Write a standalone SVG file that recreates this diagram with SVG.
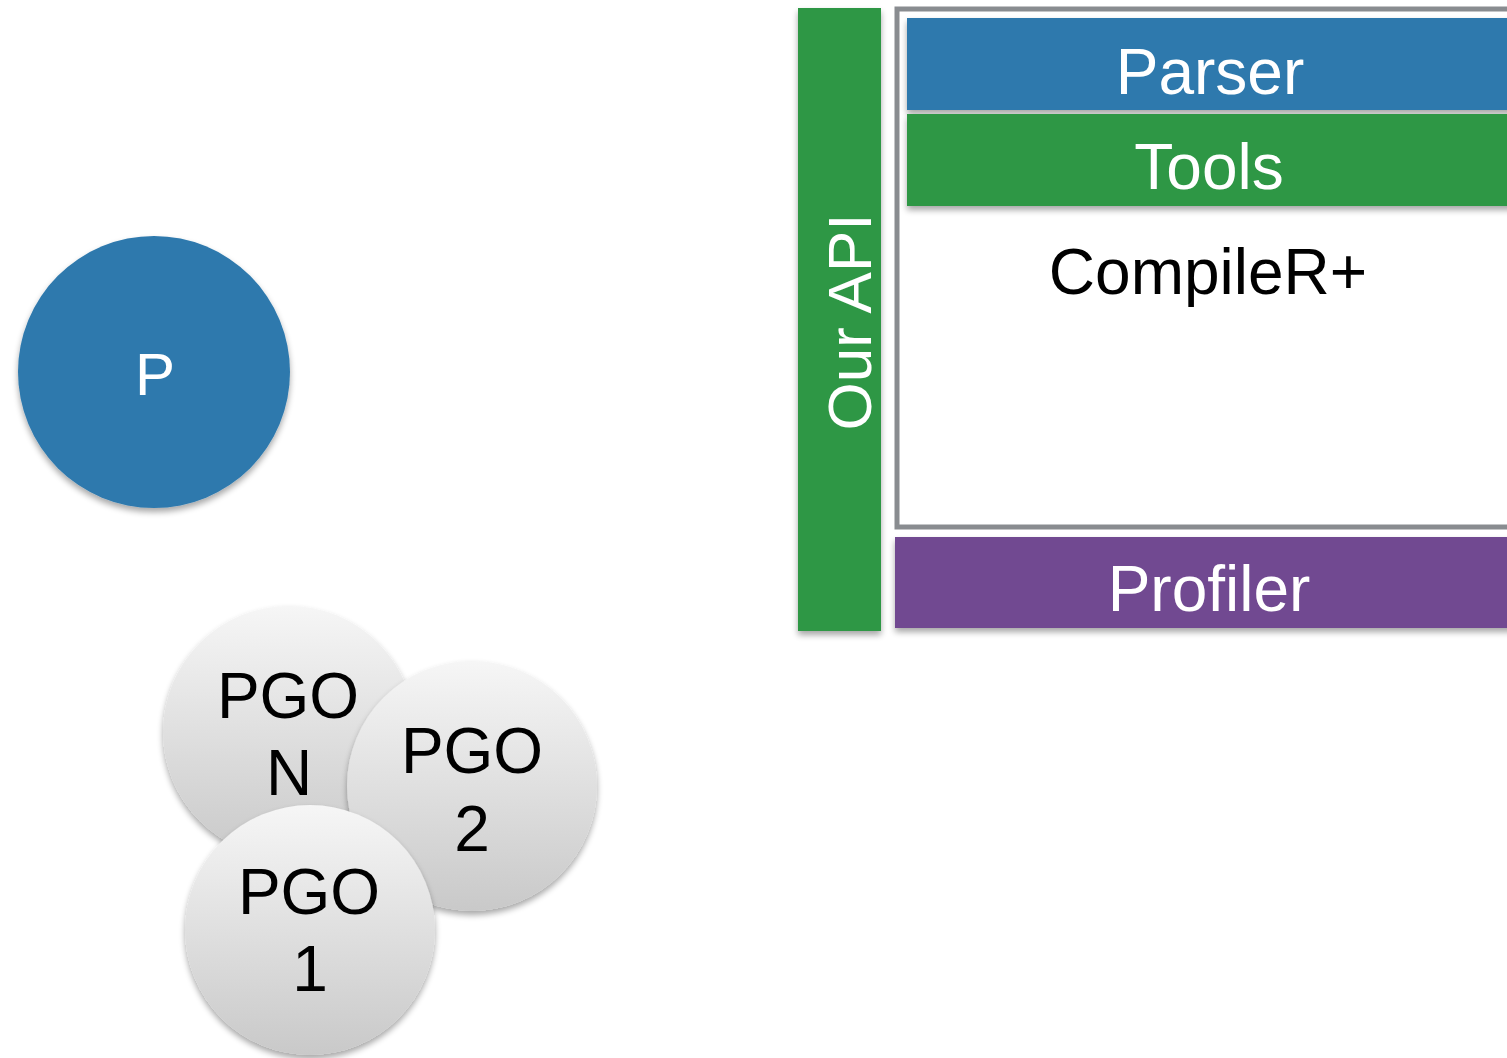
<svg xmlns="http://www.w3.org/2000/svg" width="1507" height="1058" viewBox="0 0 1507 1058">
<defs>
<style>
.t{font-family:"Liberation Sans",Arial,sans-serif;text-anchor:middle}
.w{fill:#ffffff}
.k{fill:#000000}
</style>
<filter id="sh" x="-20%" y="-20%" width="140%" height="150%">
<feGaussianBlur in="SourceAlpha" stdDeviation="3"/>
<feOffset dy="4" result="b"/>
<feComponentTransfer><feFuncA type="linear" slope="0.35"/></feComponentTransfer>
<feMerge><feMergeNode/><feMergeNode in="SourceGraphic"/></feMerge>
</filter>
<linearGradient id="pg" x1="0" y1="0" x2="0" y2="1">
<stop offset="0" stop-color="#f6f6f6"/>
<stop offset="1" stop-color="#c9c9c9"/>
</linearGradient>
</defs>
<rect width="1507" height="1058" fill="#ffffff"/>
<g id="connectors"></g>
<g id="api">
<rect x="798" y="8" width="83" height="623" fill="#2f9744" filter="url(#sh)"/>
<text class="t w" font-size="62" transform="translate(871,322) rotate(-90)">Our API</text>
</g>
<g id="frame">
<rect x="897" y="9" width="620" height="518" fill="#ffffff" stroke="#898c90" stroke-width="5"/>
<text class="t k" font-size="64" x="1208" y="294">CompileR+</text>
</g>
<g id="parser">
<rect x="907" y="18" width="610" height="92" fill="#2e79ad" filter="url(#sh)"/>
<text class="t w" font-size="64" x="1210" y="94">Parser</text>
</g>
<g id="tools">
<rect x="907" y="114" width="610" height="92" fill="#2f9744" filter="url(#sh)"/>
<text class="t w" font-size="64" x="1209" y="189">Tools</text>
</g>
<g id="profiler">
<rect x="895" y="537" width="622" height="91" fill="#714a91" filter="url(#sh)"/>
<text class="t w" font-size="64" x="1209" y="611">Profiler</text>
</g>
<g id="p">
<circle cx="154" cy="372" r="136" fill="#2e79ad" filter="url(#sh)"/>
<text class="t w" font-size="60" x="155" y="395">P</text>
</g>
<g id="pgoN">
<circle cx="289" cy="732" r="126" fill="url(#pg)" filter="url(#sh)"/>
<text class="t k" font-size="64" x="288" y="718">PGO</text>
<text class="t k" font-size="64" x="289" y="795">N</text>
</g>
<g id="pgo2">
<circle cx="472" cy="786" r="125" fill="url(#pg)" filter="url(#sh)"/>
<text class="t k" font-size="64" x="472" y="773">PGO</text>
<text class="t k" font-size="64" x="472" y="851">2</text>
</g>
<g id="pgo1">
<circle cx="310" cy="930" r="125" fill="url(#pg)" filter="url(#sh)"/>
<text class="t k" font-size="64" x="309" y="914">PGO</text>
<text class="t k" font-size="64" x="310" y="991">1</text>
</g>
</svg>
